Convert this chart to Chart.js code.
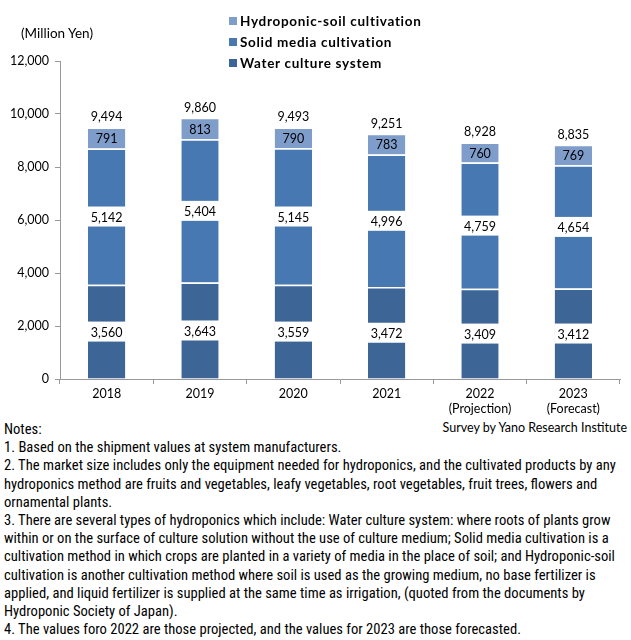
<!DOCTYPE html>
<html>
<head>
<meta charset="utf-8">
<script src="https://cdn.jsdelivr.net/npm/chart.js@4"></script>
<style>
  body { margin: 0; width: 631px; height: 640px; background: #fff; font-family: "Lato", sans-serif; position: relative; overflow: hidden; }
  #wrap { position: absolute; left: 0; top: 0; width: 631px; height: 418px; }
  #unit { position: absolute; left: 21px; top: 25px; font-size: 13.5px; color: #000; }
  #legend { position: absolute; left: 229px; top: 12px; font-weight: bold; font-size: 13.5px; letter-spacing: 0.7px; }
  #legend div { height: 21px; line-height: 18px; white-space: nowrap; }
  #legend span.sw { display: inline-block; width: 8px; height: 8px; margin-right: 3px; vertical-align: 1px; }
  #survey { position: absolute; right: 4px; top: 420px; font-size: 12.5px; }
  #notes { position: absolute; left: 4px; top: 420px; font-family: "Liberation Sans Narrow", "Roboto Condensed", sans-serif; font-size: 14.6px; line-height: 18.2px; white-space: nowrap; }
</style>
</head>
<body>
<div id="wrap"><canvas id="chart" width="631" height="418"></canvas></div>
<div id="unit">(Million Yen)</div>
<div id="legend"></div>
<div id="survey">Survey by Yano Research Institute</div>
<div id="notes">
Notes:<br>
1. Based on the shipment values at system manufacturers.<br>
2. The market size includes only the equipment needed for hydroponics, and the cultivated products by any<br>
hydroponics method are fruits and vegetables, leafy vegetables, root vegetables, fruit trees, flowers and<br>
ornamental plants.<br>
3. There are several types of hydroponics which include: Water culture system: where roots of plants grow<br>
within or on the surface of culture solution without the use of culture medium; Solid media cultivation is a<br>
cultivation method in which crops are planted in a variety of media in the place of soil; and Hydroponic-soil<br>
cultivation is another cultivation method where soil is used as the growing medium, no base fertilizer is<br>
applied, and liquid fertilizer is supplied at the same time as irrigation, (quoted from the documents by<br>
Hydroponic Society of Japan).<br>
4. The values foro 2022 are those projected, and the values for 2023 are those forecasted.
</div>
<script>
const years = [['2018'], ['2019'], ['2020'], ['2021'], ['2022', '(Projection)'], ['2023', '(Forecast)']];
const waterCulture = [3560, 3643, 3559, 3472, 3409, 3412];
const solidMedia = [5142, 5404, 5145, 4996, 4759, 4654];
const hydroSoil = [791, 813, 790, 783, 760, 769];
const totals = [9494, 9860, 9493, 9251, 8928, 8835];
const yTicks = [0, 2000, 4000, 6000, 8000, 10000, 12000];

const seriesNames = ['Water culture system', 'Solid media cultivation', 'Hydroponic-soil cultivation'];
const seriesColors = ['#3d6696', '#4878b1', '#7f9dcb'];

// legend, top item is last series
const legendBox = document.getElementById('legend');
for (let i = seriesNames.length - 1; i >= 0; i--) {
    const row = document.createElement('div');
    row.innerHTML = '<span class="sw" style="background:' + seriesColors[i] + '"></span>' + seriesNames[i];
    legendBox.appendChild(row);
}

const fmt = v => v.toLocaleString('en-US');

const labelPlugin = {
    id: 'segLabels',
    afterDatasetsDraw(chart) {
        const ctx = chart.ctx;
        ctx.save();
        ctx.font = '12.5px Lato, sans-serif';
        ctx.textAlign = 'center';
        ctx.textBaseline = 'middle';
        chart.data.datasets.forEach((ds, di) => {
            const meta = chart.getDatasetMeta(di);
            meta.data.forEach((bar, i) => {
                const cy = (bar.y + bar.base) / 2;
                const text = fmt(ds.data[i]);
                if (di < 2) {
                    ctx.fillStyle = '#fff';
                    ctx.fillRect(bar.x - 19, cy - 10, 38, 20);
                }
                ctx.fillStyle = '#000';
                ctx.fillText(text, bar.x, cy + 1);
            });
        });
        const top = chart.getDatasetMeta(chart.data.datasets.length - 1);
        top.data.forEach((bar, i) => {
            ctx.fillStyle = '#000';
            ctx.fillText(fmt(totals[i]), bar.x, bar.y - 10);
        });
        ctx.restore();
    }
};

new Chart(document.getElementById('chart'), {
    type: 'bar',
    data: {
        labels: years,
        datasets: [
            { label: seriesNames[0], data: waterCulture, backgroundColor: seriesColors[0] },
            { label: seriesNames[1], data: solidMedia, backgroundColor: seriesColors[1] },
            { label: seriesNames[2], data: hydroSoil, backgroundColor: seriesColors[2] }
        ].map(d => Object.assign(d, {
            borderColor: '#ffffff',
            borderWidth: { top: 1.5, left: 0, right: 0, bottom: 0 },
            borderSkipped: false,
            barPercentage: 0.4,
            categoryPercentage: 1
        }))
    },
    options: {
        responsive: false,
        animation: false,
        layout: { padding: { top: 61, right: 11, left: 0, bottom: 0 } },
        plugins: { legend: { display: false }, tooltip: { enabled: false } },
        scales: {
            x: {
                stacked: true,
                grid: { offset: true, drawOnChartArea: false, drawTicks: true, tickLength: 5, color: '#999' },
                border: { color: '#999' },
                ticks: { color: '#000', font: { family: 'Lato', size: 12.5 }, padding: 2 }
            },
            y: {
                stacked: true,
                min: 0,
                max: 12000,
                afterBuildTicks: axis => { axis.ticks = yTicks.map(v => ({ value: v })); },
                afterFit: axis => { axis.width = 60; },
                grid: { drawOnChartArea: false, drawTicks: true, tickLength: 5, color: '#999' },
                border: { color: '#999' },
                ticks: { color: '#000', font: { family: 'Lato', size: 12.5 }, padding: 6, callback: v => fmt(v) }
            }
        }
    },
    plugins: [labelPlugin]
});
</script>
</body>
</html>
